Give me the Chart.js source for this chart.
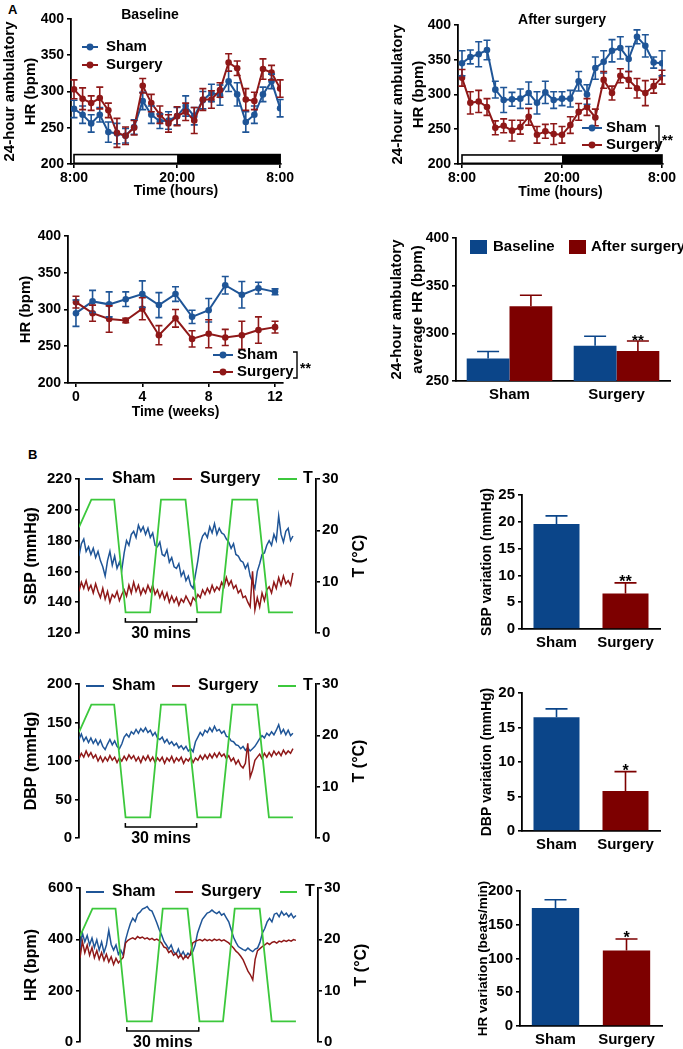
<!DOCTYPE html>
<html><head><meta charset="utf-8">
<script src="https://cdn.jsdelivr.net/npm/chart.js@4.4.1/dist/chart.umd.min.js"></script>
<style>
html,body{margin:0;padding:0;background:#fff;}
body{width:683px;height:1049px;position:relative;overflow:hidden;font-family:"Liberation Sans",Arial,sans-serif;}
canvas{position:absolute;}
.lbl{position:absolute;font-weight:bold;font-size:13px;line-height:15px;color:#000;}
</style></head><body>
<div class="lbl" style="left:8px;top:2px">A</div>
<div class="lbl" style="left:28px;top:447px">B</div>
<canvas id="a1"></canvas><canvas id="a2"></canvas><canvas id="a3"></canvas><canvas id="a4"></canvas>
<canvas id="b1"></canvas><canvas id="b2"></canvas><canvas id="b3"></canvas>
<canvas id="v1"></canvas><canvas id="v2"></canvas><canvas id="v3"></canvas>
<script>
// ---------------- DATA ----------------
// Panel A: 24-hour ambulatory HR (hours after 8:00)
const hours = [0,1,2,3,4,5,6,7,8,9,10,11,12,13,14,15,16,17,18,19,20,21,22,23,24];
const hourTickValues = [0,12,24];
const hourTickLabels = ['8:00','20:00','8:00'];
const baseSham    = [276,268,256,268,244,242,239,251,287,268,259,260,266,280,266,288,298,295,314,296,258,268,296,314,277];
const baseShamErr = [12,12,12,10,14,14,10,10,12,12,10,12,12,14,12,12,12,14,14,16,14,12,10,10,12];
const baseSurg    = [303,290,284,291,274,243,239,250,308,284,268,256,266,272,260,289,289,302,340,332,289,287,331,326,304];
const baseSurgErr = [13,15,10,15,10,20,12,10,10,12,12,12,13,12,18,15,12,10,12,10,15,12,14,10,12];
const postSham    = [345,354,358,364,307,292,293,294,302,288,303,292,294,294,319,300,338,347,363,367,351,383,370,346,345];
const postShamErr = [18,10,18,14,12,18,10,14,16,16,16,12,10,12,14,14,16,16,16,16,18,10,16,8,18];
const postSurg    = [324,288,290,282,252,255,248,253,268,242,247,243,242,256,275,282,267,321,302,327,321,309,302,312,325];
const postSurgErr = [12,16,16,12,10,10,15,10,12,12,10,15,12,12,12,12,12,12,10,10,12,14,18,10,10];
// weekly HR
const weeks = [0,1,2,3,4,5,6,7,8,9,10,11,12];
const weekTicks = [0,4,8,12];
const weeklySham    = [295,311,307,314,321,306,321,290,299,333,320,329,324];
const weeklyShamErr = [18,15,17,10,18,17,10,9,16,12,18,8,4];
const weeklySurg    = [310,295,287,285,301,265,288,260,267,262,265,272,276];
const weeklySurgErr = [8,11,18,3,15,13,12,11,19,11,19,18,8];
// average HR bars
const avgGroups = ['Sham','Surgery'];
const avgBaseline = [273.5,287];
const avgBaselineErr = [7.5,10];
const avgAfter = [328.5,281.5];
const avgAfterErr = [11.5,10.5];

// Panel B: traces (minutes)
const minutes = [0,1,2,3,4,5,6,7,8,9,10,11,12,13,14,15,16,17,18,19,20,21,22,23,24,25,26,27,28,29,30,31,32,33,34,35,36,37,38,39,40,41,42,43,44,45,46,47,48,49,50,51,52,53,54,55,56,57,58,59,60,61,62,63,64,65,66,67,68,69,70,71,72,73,74,75,76,77,78,79,80,81,82,83,84,85,86,87,88,89,90];
const sbpSham = [170,178,181,173,176,171,175,169,173,167,163,157,167,173,164,170,162,166,161,172,
 180,177,184,186,182,190,186,189,184,188,182,185,177,176,179,171,170,174,166,169,
 163,162,165,157,160,154,157,151,149,158,167,178,183,185,182,189,185,191,184,188,
 185,184,181,179,175,178,171,170,167,166,162,165,157,153,149,160,165,171,172,177,
 180,177,184,180,196,184,179,186,188,180,183];
const sbpSurg = [147,153,149,154,148,151,146,152,147,143,149,142,147,140,145,143,147,141,145,148,
 144,151,146,153,147,151,145,149,146,151,147,151,145,148,143,147,142,146,140,144,
 140,143,138,142,140,144,141,138,143,141,145,143,148,145,149,146,151,147,150,148,
 153,150,156,151,154,149,151,146,148,143,144,140,137,160,135,143,137,146,141,148,
 150,146,153,149,156,151,157,152,154,151,159];
const dbpSham = [128,135,126,131,124,130,123,128,121,127,119,115,122,128,121,126,119,116,122,131,
 135,131,138,135,141,136,142,138,143,137,140,133,137,130,128,131,124,128,122,125,
 120,123,117,120,115,119,113,116,112,125,131,137,133,140,137,143,138,145,139,141,
 136,139,132,131,126,125,121,120,116,119,114,117,113,116,119,124,129,133,130,136,
 133,138,134,140,147,136,141,134,140,133,136];
const dbpSurg = [103,110,105,113,106,111,104,108,100,106,99,105,100,107,101,105,98,104,100,106,
 101,108,103,107,100,105,98,106,101,107,100,105,98,104,100,105,97,104,100,106,
 98,104,100,105,97,103,100,105,98,104,101,107,102,108,103,109,104,110,105,111,
 106,109,103,107,100,104,96,101,94,91,97,123,79,88,101,105,109,103,110,105,
 111,106,113,108,112,107,114,109,113,110,116];
const hrSham = [365,425,390,415,378,405,368,398,358,390,348,378,435,380,358,378,342,358,338,398,
 432,462,482,470,498,506,518,522,528,515,510,488,465,438,418,392,378,362,378,352,
 342,362,336,352,332,346,338,352,378,425,452,478,490,502,506,514,506,500,508,494,
 500,484,468,438,408,388,372,366,360,356,366,358,352,362,366,388,424,442,468,482,
 468,498,502,488,508,494,502,488,500,484,493];
const hrSurg = [328,392,348,378,338,368,328,356,322,348,318,342,312,332,302,326,308,320,330,386,
 396,402,406,400,411,405,409,402,406,399,404,397,401,395,386,370,366,348,356,338,
 346,328,340,322,336,326,342,386,392,396,399,394,401,395,399,394,401,396,400,394,
 398,392,386,376,366,354,346,334,320,298,276,262,242,322,356,364,372,378,386,380,
 388,391,385,393,390,396,392,397,393,399,396];
const tempMinutes = [0,5.2,14.8,19.6,29.9,34.5,44.8,49.8,59.6,64.5,74.9,79.9,90];
const tempValues  = [20.6,26,26,4,4,26,26,4,4,26,26,4,4];
const scaleBar = {from:19.5, to:49.5, label:'30 mins'};
// variation bars
const varGroups = ['Sham','Surgery'];
const sbpVar = [19.6,6.6];  const sbpVarErr = [1.5,2.0];
const dbpVar = [16.5,5.8];  const dbpVarErr = [1.2,2.8];
const hrVar  = [175,112];   const hrVarErr  = [12,17];

// ---------------- STYLE ----------------
const FONT = '"Liberation Sans", Arial, Helvetica, sans-serif';
const BLUE = '#1f5597', RED = '#8f1818', GREEN = '#3cc83c';
const BAR_BLUE = '#0b4589', BAR_RED = '#7d0000';
Chart.defaults.font.family = FONT;
Chart.defaults.color = '#000';

function place(id, box){
  const c = document.getElementById(id);
  c.width = box.w; c.height = box.h;
  c.style.left = box.x + 'px'; c.style.top = box.y + 'px';
  return c;
}
const bold = (s, lh) => ({family:FONT, size:s, weight:'bold', lineHeight: lh || 1.2});
const gridOpts = () => ({drawOnChartArea:false, drawTicks:true, tickLength:4, color:'#000', lineWidth:1.6});
const borderOpts = () => ({display:true, color:'#000', width:1.8});
function txt(ctx, s, x, y, size, align, baseline, weight){
  ctx.font = (weight || 'bold') + ' ' + size + 'px ' + FONT;
  ctx.fillStyle = '#000'; ctx.textAlign = align || 'left'; ctx.textBaseline = baseline || 'middle';
  ctx.fillText(s, x, y);
}
function overlay(box, pageFn, dataFn){
  return {id:'overlay', afterDraw(chart){
    const ctx = chart.ctx;
    if (dataFn){ ctx.save(); dataFn(ctx, chart); ctx.restore(); }
    if (pageFn){ ctx.save(); ctx.translate(-box.x, -box.y); pageFn(ctx, chart); ctx.restore(); }
  }};
}
const errorBarPlugin = {
  id:'errorBars',
  afterDatasetsDraw(chart){
    const ctx = chart.ctx;
    chart.data.datasets.forEach((ds, di) => {
      if (!ds.errors) return;
      const meta = chart.getDatasetMeta(di);
      const ys = chart.scales[meta.yAxisID];
      ctx.save();
      ctx.strokeStyle = ds.errColor; ctx.lineWidth = ds.errWidth || 1.6;
      meta.data.forEach((el, j) => {
        const raw = ds.data[j]; const v = (typeof raw === 'object') ? raw.y : raw;
        const e = ds.errors[j]; const cap = ds.errCap || 3.5;
        const top = ys.getPixelForValue(v + e);
        const bot = ds.errMode === 'up' ? ys.getPixelForValue(v) : ys.getPixelForValue(v - e);
        ctx.beginPath();
        ctx.moveTo(el.x, bot); ctx.lineTo(el.x, top);
        ctx.moveTo(el.x - cap, top); ctx.lineTo(el.x + cap, top);
        if (ds.errMode !== 'up'){ ctx.moveTo(el.x - cap, bot); ctx.lineTo(el.x + cap, bot); }
        ctx.stroke();
      });
      ctx.restore();
    });
  }
};
function dotLegend(ctx, x1, x2, y, color, label, tx, size){
  ctx.strokeStyle = color; ctx.lineWidth = 2;
  ctx.beginPath(); ctx.moveTo(x1, y); ctx.lineTo(x2, y); ctx.stroke();
  ctx.fillStyle = color; ctx.beginPath(); ctx.arc((x1+x2)/2, y, 3.4, 0, Math.PI*2); ctx.fill();
  txt(ctx, label, tx, y, size);
}
function lineLegend(ctx, x1, x2, y, color, label, tx, size){
  ctx.strokeStyle = color; ctx.lineWidth = 2;
  ctx.beginPath(); ctx.moveTo(x1, y); ctx.lineTo(x2, y); ctx.stroke();
  txt(ctx, label, tx, y, size);
}
function bracket(ctx, x, y1, y2, stars, size){
  ctx.strokeStyle = '#000'; ctx.lineWidth = 1.4;
  ctx.beginPath(); ctx.moveTo(x-4, y1); ctx.lineTo(x, y1); ctx.lineTo(x, y2); ctx.lineTo(x-4, y2); ctx.stroke();
  txt(ctx, stars, x + 3, (y1+y2)/2 + 4, size);
}
function dayNight(ctx, chart){
  const xs = chart.scales.x, ys = chart.scales.y;
  const x0 = xs.getPixelForValue(hourTickValues[0]), xm = xs.getPixelForValue(hourTickValues[1]), x1 = xs.getPixelForValue(hourTickValues[2]);
  const yt = ys.getPixelForValue(213), yb = ys.getPixelForValue(201);
  ctx.fillStyle = '#fff'; ctx.fillRect(x0, yt, xm - x0, yb - yt);
  ctx.fillStyle = '#000'; ctx.fillRect(xm, yt, x1 - xm, yb - yt);
  ctx.strokeStyle = '#000'; ctx.lineWidth = 1.6; ctx.strokeRect(x0, yt, x1 - x0, yb - yt);
}

// ---------- A line charts ----------
function lineSeries(xs, ys, errs, color, label, order){
  return {label, data: xs.map((x,i)=>({x, y: ys[i]})), borderColor: color, backgroundColor: color,
    borderWidth: 2, pointRadius: 3.3, pointBorderWidth: 0, pointBackgroundColor: color, tension: 0,
    errors: errs, errColor: color, errCap: 3.5, order};
}
function lineChartA(id, box, area, cfg){
  const c = place(id, box);
  const yW = area.l - box.x, padR = box.x + box.w - area.r, padT = area.t - box.y;
  const padB = box.y + box.h - area.b - cfg.xH;
  return new Chart(c, {
    type:'line',
    data:{datasets: cfg.datasets},
    options:{
      responsive:false, animation:false, devicePixelRatio:1,
      layout:{padding:{left:0, top:padT, right:padR, bottom:padB}},
      plugins:{legend:{display:false}, tooltip:{enabled:false}},
      scales:{
        x:{type:'linear', min:cfg.xMin, max:cfg.xMax,
          afterFit:s=>{s.height = cfg.xH;},
          afterBuildTicks:s=>{s.ticks = cfg.xTicks.map(v=>({value:v}));},
          ticks:{callback:(v,i)=>cfg.xLabels[i], font:bold(14), color:'#000', padding:2, maxRotation:0, autoSkip:false},
          grid:gridOpts(), border:borderOpts(),
          title:{display:true, text:cfg.xTitle, color:'#000', font:bold(14), padding:{top:0,bottom:0}}},
        y:{min:cfg.yMin, max:cfg.yMax, afterFit:s=>{s.width = yW;},
          ticks:{stepSize:50, font:bold(14), color:'#000', padding:3},
          grid:gridOpts(), border:borderOpts(),
          title:{display:true, text:cfg.yTitle, color:'#000', font:bold(15, 1.35), padding:{top:cfg.yTitlePad, bottom:0}}}
      }
    },
    plugins:[errorBarPlugin, cfg.overlay]
  });
}

// A1 Baseline
(function(){
  const box = {x:0, y:0, w:300, h:205};
  lineChartA('a1', box, {l:71, t:19, r:281, b:164}, {
    datasets:[lineSeries(hours, baseSham, baseShamErr, BLUE, 'Sham', 1), lineSeries(hours, baseSurg, baseSurgErr, RED, 'Surgery', 0)],
    xMin:-0.35, xMax:24.1, xTicks:hourTickValues, xLabels:hourTickLabels, xTitle:'Time (hours)', xH:36,
    yMin:200, yMax:400, yTitle:['24-hour ambulatory','HR (bpm)'], yTitlePad:0,
    overlay: overlay(box, (ctx)=>{
      txt(ctx, 'Baseline', 150, 15, 14, 'center');
      dotLegend(ctx, 82, 98, 47, BLUE, 'Sham', 106, 15);
      dotLegend(ctx, 82, 98, 65, RED, 'Surgery', 106, 15);
    }, dayNight)
  });
})();
// A2 After surgery
(function(){
  const box = {x:340, y:0, w:343, h:205};
  lineChartA('a2', box, {l:458, t:25, r:663, b:164}, {
    datasets:[lineSeries(hours, postSham, postShamErr, BLUE, 'Sham', 1), lineSeries(hours, postSurg, postSurgErr, RED, 'Surgery', 0)],
    xMin:-0.48, xMax:24.12, xTicks:hourTickValues, xLabels:hourTickLabels, xTitle:'Time (hours)', xH:37,
    yMin:200, yMax:400, yTitle:['24-hour ambulatory','HR (bpm)'], yTitlePad:48,
    overlay: overlay(box, (ctx)=>{
      txt(ctx, 'After surgery', 562, 20, 14, 'center');
      dotLegend(ctx, 582, 602, 128, BLUE, 'Sham', 606, 15);
      dotLegend(ctx, 582, 602, 145, RED, 'Surgery', 606, 15);
      bracket(ctx, 659, 126, 148, '**', 14);
    }, dayNight)
  });
})();
// A3 weekly
(function(){
  const box = {x:0, y:215, w:340, h:210};
  lineChartA('a3', box, {l:68, t:236, r:283, b:383}, {
    datasets:[lineSeries(weeks, weeklySham, weeklyShamErr, BLUE, 'Sham', 1), lineSeries(weeks, weeklySurg, weeklySurgErr, RED, 'Surgery', 0)],
    xMin:-0.48, xMax:12.48, xTicks:weekTicks, xLabels:weekTicks.map(String), xTitle:'Time (weeks)', xH:38,
    yMin:200, yMax:400, yTitle:'HR (bpm)', yTitlePad:16,
    overlay: overlay(box, (ctx)=>{
      dotLegend(ctx, 213, 233, 355, BLUE, 'Sham', 237, 15);
      dotLegend(ctx, 213, 233, 372, RED, 'Surgery', 237, 15);
      bracket(ctx, 297, 352, 378, '**', 14);
    })
  });
})();
// A4 average bars
(function(){
  const box = {x:340, y:215, w:343, h:200};
  const area = {l:456, t:238, r:670, b:381};
  const c = place('a4', box);
  const xH = 30;
  new Chart(c, {
    type:'bar',
    data:{labels:avgGroups, datasets:[
      {label:'Baseline', data:avgBaseline, backgroundColor:BAR_BLUE, errors:avgBaselineErr, errMode:'up', errColor:BAR_BLUE, errCap:11},
      {label:'After surgery', data:avgAfter, backgroundColor:BAR_RED, errors:avgAfterErr, errMode:'up', errColor:BAR_RED, errCap:11}
    ]},
    options:{
      responsive:false, animation:false, devicePixelRatio:1,
      datasets:{bar:{categoryPercentage:0.8, barPercentage:1.0}},
      layout:{padding:{left:0, top:area.t-box.y, right:box.x+box.w-area.r, bottom:box.y+box.h-area.b-xH}},
      plugins:{legend:{display:false}, tooltip:{enabled:false}},
      scales:{
        x:{afterFit:s=>{s.height = xH;}, ticks:{font:bold(15), color:'#000', padding:5},
          grid:{drawOnChartArea:false, drawTicks:false}, border:borderOpts()},
        y:{min:250, max:400, afterFit:s=>{s.width = area.l - box.x;},
          ticks:{stepSize:50, font:bold(14), color:'#000', padding:3},
          grid:gridOpts(), border:borderOpts(),
          title:{display:true, text:['24-hour ambulatory','average HR (bpm)'], color:'#000', font:bold(15,1.35), padding:{top:47,bottom:0}}}
      }
    },
    plugins:[errorBarPlugin, overlay(box, (ctx)=>{
      ctx.fillStyle = BAR_BLUE; ctx.fillRect(470, 240, 17, 14);
      txt(ctx, 'Baseline', 493, 247, 15);
      ctx.fillStyle = BAR_RED; ctx.fillRect(569, 240, 17, 14);
      txt(ctx, 'After surgery', 591, 247, 15);
    }, (ctx, chart)=>{
      const el = chart.getDatasetMeta(1).data[1];
      const yPix = chart.scales.y.getPixelForValue(avgAfter[1] + avgAfterErr[1]);
      txt(ctx, '**', el.x, yPix + 4, 15, 'center', 'alphabetic');
    })]
  });
})();

// ---------- B trace charts ----------
function traceChart(id, box, area, cfg){
  const c = place(id, box);
  const mk = (arr) => minutes.map((m,i)=>({x:m, y:arr[i]}));
  new Chart(c, {
    type:'line',
    data:{datasets:[
      {label:'Sham', data:mk(cfg.sham), borderColor:BLUE, borderWidth:1.5, pointRadius:0, tension:0, order:2},
      {label:'Surgery', data:mk(cfg.surg), borderColor:RED, borderWidth:1.5, pointRadius:0, tension:0, order:1},
      {label:'T', data:tempMinutes.map((m,i)=>({x:m, y:tempValues[i]})), borderColor:GREEN, borderWidth:1.8, pointRadius:0, tension:0, yAxisID:'y2', order:0}
    ]},
    options:{
      responsive:false, animation:false, devicePixelRatio:1,
      layout:{padding:{left:0, top:area.t-box.y, right:0, bottom:box.y+box.h-area.b}},
      plugins:{legend:{display:false}, tooltip:{enabled:false}},
      scales:{
        x:{type:'linear', display:false, min:0, max:cfg.xMax},
        y:{min:cfg.yMin, max:cfg.yMax, afterFit:s=>{s.width = area.l - box.x;},
          ticks:{stepSize:cfg.yStep, font:bold(15), color:'#000', padding:3},
          grid:gridOpts(), border:borderOpts(),
          title:{display:true, text:cfg.yTitle, color:'#000', font:bold(16), padding:{top:22,bottom:0}}},
        y2:{position:'right', min:0, max:30, afterFit:s=>{s.width = box.x + box.w - area.r;},
          ticks:{stepSize:10, font:bold(15), color:'#000', padding:2},
          grid:gridOpts(), border:borderOpts()}
      }
    },
    plugins:[overlay(box, (ctx)=>{
      const L = cfg.legend;
      lineLegend(ctx, L[0][0], L[0][1], L.y, BLUE, 'Sham', L[0][2], 16);
      lineLegend(ctx, L[1][0], L[1][1], L.y, RED, 'Surgery', L[1][2], 16);
      lineLegend(ctx, L[2][0], L[2][1], L.y, GREEN, 'T', L[2][2], 16);
      ctx.save(); ctx.translate(area.r + 44, (area.t + area.b)/2); ctx.rotate(-Math.PI/2);
      txt(ctx, 'T (°C)', 0, 0, 16, 'center'); ctx.restore();
    }, (ctx, chart)=>{
      const xs = chart.scales.x, ca = chart.chartArea;
      const xa = xs.getPixelForValue(scaleBar.from), xb = xs.getPixelForValue(scaleBar.to);
      const y = ca.bottom - 11;
      ctx.strokeStyle = '#000'; ctx.lineWidth = 1.5;
      ctx.beginPath(); ctx.moveTo(xa, y - 4); ctx.lineTo(xa, y); ctx.lineTo(xb, y); ctx.lineTo(xb, y - 4); ctx.stroke();
      txt(ctx, scaleBar.label, (xa + xb)/2, ca.bottom + 1, 16, 'center');
    })]
  });
}
traceChart('b1', {x:0, y:445, w:440, h:205}, {l:79, t:479, r:316, b:633}, {
  sham:sbpSham, surg:sbpSurg, xMax:99.7, yMin:120, yMax:220, yStep:20, yTitle:'SBP (mmHg)',
  legend:Object.assign([[85,103,112],[173,192,200],[278,297,303]], {y:479})
});
traceChart('b2', {x:0, y:650, w:440, h:205}, {l:79, t:684, r:316, b:838}, {
  sham:dbpSham, surg:dbpSurg, xMax:99.7, yMin:0, yMax:200, yStep:50, yTitle:'DBP (mmHg)',
  legend:Object.assign([[86,104,112],[172,190,198],[278,296,303]], {y:686})
});
traceChart('b3', {x:0, y:855, w:440, h:205}, {l:80, t:888, r:318, b:1042}, {
  sham:hrSham, surg:hrSurg, xMax:99.2, yMin:0, yMax:600, yStep:200, yTitle:'HR (bpm)',
  legend:Object.assign([[86,104,112],[175,193,201],[280,297,305]], {y:892})
});

// ---------- B variation bars ----------
function varChart(id, box, area, cfg){
  const c = place(id, box);
  const xH = 30;
  new Chart(c, {
    type:'bar',
    data:{labels:varGroups, datasets:[{data:cfg.values, backgroundColor:[BAR_BLUE, BAR_RED]}]},
    options:{
      responsive:false, animation:false, devicePixelRatio:1,
      datasets:{bar:{categoryPercentage:1.0, barPercentage:0.667}},
      layout:{padding:{left:0, top:area.t-box.y, right:box.x+box.w-area.r, bottom:box.y+box.h-area.b-xH}},
      plugins:{legend:{display:false}, tooltip:{enabled:false}},
      scales:{
        x:{afterFit:s=>{s.height = xH;}, ticks:{font:bold(15), color:'#000', padding:5},
          grid:{drawOnChartArea:false, drawTicks:false}, border:borderOpts()},
        y:{min:0, max:cfg.yMax, afterFit:s=>{s.width = area.l - box.x;},
          ticks:{stepSize:cfg.yStep, font:bold(15), color:'#000', padding:3},
          grid:gridOpts(), border:borderOpts(),
          title:{display:true, text:cfg.yTitle, color:'#000', font:bold(cfg.tSize), padding:{top:cfg.tPad,bottom:0}}}
      }
    },
    plugins:[{id:'varErr', afterDatasetsDraw(chart){
      const ctx = chart.ctx, meta = chart.getDatasetMeta(0), ys = chart.scales.y;
      ctx.save(); ctx.lineWidth = 1.6;
      meta.data.forEach((el, j)=>{
        const top = ys.getPixelForValue(cfg.values[j] + cfg.errs[j]);
        const bot = ys.getPixelForValue(cfg.values[j]);
        ctx.strokeStyle = j === 0 ? BAR_BLUE : BAR_RED;
        ctx.beginPath(); ctx.moveTo(el.x, bot); ctx.lineTo(el.x, top);
        ctx.moveTo(el.x - 11, top); ctx.lineTo(el.x + 11, top); ctx.stroke();
      });
      const el = meta.data[1];
      txt(ctx, cfg.star, el.x, ys.getPixelForValue(cfg.values[1] + cfg.errs[1]) + 4, 16, 'center', 'alphabetic');
      ctx.restore();
    }}]
  });
}
varChart('v1', {x:440, y:460, w:243, h:205}, {l:522, t:495, r:660, b:629},
  {values:sbpVar, errs:sbpVarErr, yMax:25, yStep:5, yTitle:'SBP variation (mmHg)', tPad:39, tSize:14, star:'**'});
varChart('v2', {x:440, y:655, w:243, h:210}, {l:522, t:693, r:660, b:831},
  {values:dbpVar, errs:dbpVarErr, yMax:20, yStep:5, yTitle:'DBP variation (mmHg)', tPad:39, tSize:14, star:'*'});
varChart('v3', {x:440, y:858, w:243, h:200}, {l:520, t:891, r:662, b:1026},
  {values:hrVar, errs:hrVarErr, yMax:200, yStep:50, yTitle:'HR variation (beats/min)', tPad:35, tSize:13.5, star:'*'});
</script>
</body></html>
